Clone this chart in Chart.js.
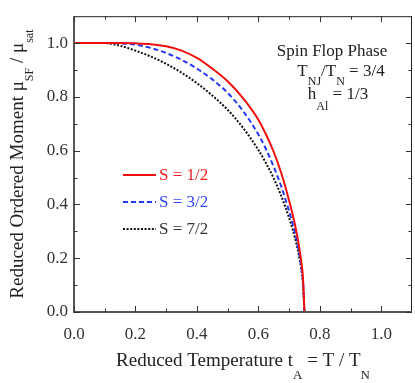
<!DOCTYPE html>
<html>
<head>
<meta charset="utf-8">
<script src="https://cdn.jsdelivr.net/npm/chart.js@4.4.1/dist/chart.umd.min.js"></script>
<style>
html,body{margin:0;padding:0;background:#fff;}
#wrap{width:415px;height:383px;position:relative;}
</style>
</head>
<body>
<div id="wrap"><canvas id="c" width="415" height="383"></canvas></div>
<script>
// Reduced temperature t_A = T / T_N
const tValues = [0, 0.05, 0.1, 0.15, 0.2, 0.25, 0.3, 0.35, 0.4, 0.45, 0.5, 0.55, 0.6, 0.625, 0.65, 0.675, 0.7, 0.71, 0.72, 0.73, 0.74, 0.745, 0.75];
// Reduced ordered moment for each spin
const momentS12 = [1, 1, 1, 1, 0.999, 0.996, 0.988, 0.972, 0.945, 0.905, 0.858, 0.795, 0.715, 0.66, 0.595, 0.515, 0.415, 0.37, 0.32, 0.26, 0.185, 0.13, 0];
const momentS32 = [1, 1, 1, 0.999, 0.994, 0.982, 0.963, 0.938, 0.905, 0.865, 0.815, 0.748, 0.66, 0.605, 0.54, 0.465, 0.375, 0.335, 0.29, 0.235, 0.165, 0.115, 0];
const momentS72 = [1, 1, 1, 0.99, 0.972, 0.95, 0.923, 0.89, 0.851, 0.805, 0.752, 0.685, 0.603, 0.553, 0.497, 0.43, 0.35, 0.313, 0.272, 0.222, 0.157, 0.11, 0];
const seriesLabels = ['S = 1/2', 'S = 3/2', 'S = 7/2'];
const xTickValues = [0, 0.2, 0.4, 0.6, 0.8, 1.0];
const yTickValues = [0, 0.2, 0.4, 0.6, 0.8, 1.0];
const annotationLines = [
  [{t: 'Spin Flop Phase'}],
  [{t: 'T'}, {t: 'NJ', sub: true}, {t: '/T'}, {t: 'N', sub: true}, {t: ' = 3/4'}],
  [{t: 'h'}, {t: 'Al', sub: true}, {t: ' = 1/3'}]
];
const xTitle = [{t: 'Reduced Temperature t'}, {t: 'A', sub: true}, {t: ' = T / T'}, {t: 'N', sub: true}];
const yTitle = [{t: 'Reduced Ordered Moment \u03BC'}, {t: 'SF', sub: true}, {t: ' / \u03BC'}, {t: 'sat', sub: true}];

const SERIF = '"Liberation Serif", "Times New Roman", serif';
const colors = ['#f01010', '#2438f0', '#111111'];
const textColors = ['#f02020', '#3448f0', '#333333'];
const dashes = [[], [5, 3], [2, 1.6]];

function pts(m) { return tValues.map((t, i) => ({x: t, y: m[i]})); }
const allSeries = [momentS12, momentS32, momentS72];

function richWidth(ctx, parts, size, subSize) {
  let w = 0;
  for (const p of parts) {
    ctx.font = (p.sub ? subSize : size) + 'px ' + SERIF;
    w += ctx.measureText(p.t).width;
  }
  return w;
}
function drawRich(ctx, parts, x, y, size, subSize, subDrop, align) {
  const w = richWidth(ctx, parts, size, subSize);
  let cx = align === 'center' ? x - w / 2 : x;
  ctx.textAlign = 'left';
  ctx.textBaseline = 'alphabetic';
  for (const p of parts) {
    ctx.font = (p.sub ? subSize : size) + 'px ' + SERIF;
    ctx.fillText(p.t, cx, p.sub ? y + subDrop : y);
    cx += ctx.measureText(p.t).width;
  }
}

const decor = {
  id: 'decor',
  afterDatasetsDraw(chart) {
    const ctx = chart.ctx;
    const xs = chart.scales.x, ys = chart.scales.y;
    const L = xs.left, R = xs.right, T = ys.top, B = ys.bottom;
    ctx.save();
    // frame
    ctx.strokeStyle = '#222';
    ctx.lineWidth = 1;
    ctx.beginPath();
    ctx.moveTo(L, T + 0.5); ctx.lineTo(R, T + 0.5);
    ctx.moveTo(R - 0.5, T); ctx.lineTo(R - 0.5, B);
    ctx.stroke();
    ctx.strokeStyle = '#555';
    ctx.lineWidth = 2;
    ctx.beginPath();
    ctx.moveTo(L, B); ctx.lineTo(R, B);
    ctx.moveTo(L, T); ctx.lineTo(L, B + 1);
    ctx.stroke();
    // inward ticks
    ctx.lineWidth = 1;
    ctx.strokeStyle = '#333';
    ctx.beginPath();
    for (let k = 0; k <= 10; k++) {
      const v = k / 10;
      const len = k % 2 === 0 ? 6 : 3.5;
      const px = Math.round(xs.getPixelForValue(v)) + 0.5;
      ctx.moveTo(px, B); ctx.lineTo(px, B - len);
      ctx.moveTo(px, T); ctx.lineTo(px, T + len);
      const py = Math.round(ys.getPixelForValue(v)) + 0.5;
      ctx.moveTo(L, py); ctx.lineTo(L + len, py);
      ctx.moveTo(R, py); ctx.lineTo(R - len, py);
    }
    ctx.stroke();
    // annotation
    ctx.fillStyle = '#222';
    drawRich(ctx, annotationLines[0], 332, 56, 17, 12, 9, 'center');
    drawRich(ctx, annotationLines[1], 341, 76, 17, 12, 9, 'center');
    drawRich(ctx, annotationLines[2], 338, 99, 17, 12, 11, 'center');
    // legend
    const legY = [175, 202, 229];
    chart.data.datasets.forEach((ds, i) => {
      ctx.strokeStyle = ds.borderColor;
      ctx.lineWidth = 2;
      ctx.setLineDash(ds.borderDash || []);
      ctx.beginPath();
      ctx.moveTo(123, legY[i]); ctx.lineTo(156, legY[i]);
      ctx.stroke();
      ctx.setLineDash([]);
      ctx.fillStyle = textColors[i];
      ctx.font = '17px ' + SERIF;
      ctx.textAlign = 'left';
      ctx.textBaseline = 'middle';
      ctx.fillText(ds.label, 159, legY[i] + 1);
    });
    // axis titles
    ctx.fillStyle = '#222';
    drawRich(ctx, xTitle, 243, 366, 19, 13, 13, 'center');
    ctx.translate(23, (T + B) / 2);
    ctx.rotate(-Math.PI / 2);
    drawRich(ctx, yTitle, 0, 0, 19, 12, 10, 'center');
    ctx.restore();
  }
};

new Chart(document.getElementById('c'), {
  type: 'scatter',
  data: {
    datasets: allSeries.map((m, i) => ({
      label: seriesLabels[i],
      data: pts(m),
      showLine: true,
      borderColor: colors[i],
      backgroundColor: colors[i],
      borderWidth: 2,
      borderDash: dashes[i],
      pointRadius: 0,
      cubicInterpolationMode: 'monotone',
      fill: false
    }))
  },
  options: {
    responsive: false,
    animation: false,
    layout: {padding: {left: 0, top: 14, right: 3, bottom: 0}},
    plugins: {legend: {display: false}, tooltip: {enabled: false}},
    scales: {
      x: {
        type: 'linear', min: 0, max: 1.1,
        grid: {display: false, drawTicks: false, tickLength: 0},
        border: {display: false},
        afterBuildTicks: s => { s.ticks = xTickValues.map(v => ({value: v})); },
        afterFit: s => { s.height = 71; },
        ticks: {
          color: '#333', padding: 12, maxRotation: 0, autoSkip: false,
          font: {family: SERIF, size: 17},
          callback: v => Number(v).toFixed(1)
        }
      },
      y: {
        type: 'linear', min: 0, max: 1.1,
        grid: {display: false, drawTicks: false, tickLength: 0},
        border: {display: false},
        afterBuildTicks: s => { s.ticks = yTickValues.map(v => ({value: v})); },
        afterFit: s => { s.width = 74; },
        ticks: {
          color: '#333', padding: 6, autoSkip: false,
          font: {family: SERIF, size: 17},
          callback: v => Number(v).toFixed(1)
        }
      }
    }
  },
  plugins: [decor]
});
</script>
</body>
</html>
